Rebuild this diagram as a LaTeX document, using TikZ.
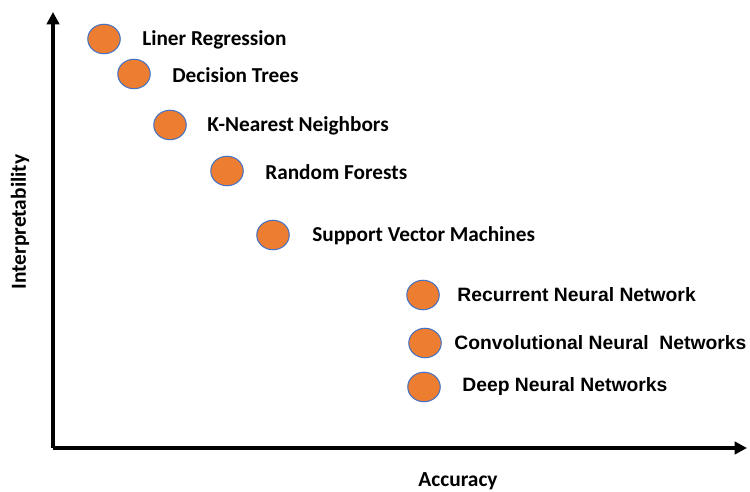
\documentclass[tikz,border=0pt]{standalone}
\usepackage{fontspec}
\newfontfamily\calfont{Carlito}
\newfontfamily\arifont{Liberation Sans}
\usepackage{tikz}
\usetikzlibrary{arrows.meta, positioning, shapes.geometric}

\definecolor{dotorange}{HTML}{ED7D31}
\definecolor{dotedge}{HTML}{4472C4}

\begin{document}
\begin{tikzpicture}[
    x=0.02cm, y=-0.02cm,
    dot/.style={draw=dotedge, fill=dotorange, ellipse, line width=0.6pt, minimum width=0.65cm, minimum height=0.59cm, inner sep=0pt},
    lblc/.style={anchor=west, inner sep=0pt, font=\calfont\bfseries\fontsize{12.1}{14}\selectfont},
    lbla/.style={anchor=west, inner sep=0pt, font=\arifont\bfseries\fontsize{11}{14}\selectfont},
    axis/.style={line width=2pt, -{Triangle[length=7pt, width=7pt]}},
    axlbl/.style={inner sep=0pt, font=\calfont\bfseries\fontsize{12.2}{14}\selectfont},
]
\useasboundingbox (0,0) rectangle (750,492);

% Axes
\coordinate (origin) at (53, 448);
\coordinate (ytop) at (53, 12);
\coordinate (xend) at (747, 448);
\draw[axis] (origin) -- (ytop);
\draw[axis] (origin) -- (xend);

\node[axlbl, rotate=90] (ylab) at (20, 222) {Interpretability};
\node[axlbl] (xlab) at (458, 481) {Accuracy};

% Models
\node[dot] (lr) at (104, 39) {};
\node[lblc] (lrl) at (142, 40) {Liner Regression};

\node[dot] (dt) at (134, 74) {};
\node[lblc] (dtl) at (172, 75) {Decision Trees};

\node[dot] (knn) at (170, 125) {};
\node[lblc] (knnl) at (207, 126) {K-Nearest Neighbors};

\node[dot] (rf) at (227, 171) {};
\node[lblc] (rfl) at (265, 172) {Random Forests};

\node[dot] (svm) at (273, 235) {};
\node[lblc] (svml) at (312, 236) {Support Vector Machines};

\node[dot] (rnn) at (423, 295) {};
\node[lbla] (rnnl) at (457, 295) {Recurrent Neural Network};

\node[dot] (cnn) at (425, 343) {};
\node[lbla] (cnnl) at (454, 343) {Convolutional Neural\ \ Networks};

\node[dot] (dnn) at (424, 387) {};
\node[lbla] (dnnl) at (462, 387) {Deep Neural Networks};

\end{tikzpicture}
\end{document}
